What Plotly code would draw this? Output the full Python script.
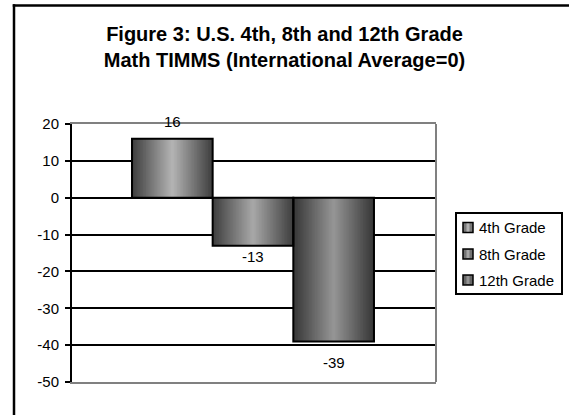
import plotly.graph_objects as go

# ---- data -------------------------------------------------------------
grades = ["4th Grade", "8th Grade", "12th Grade"]
scores = [16, -13, -39]
y_ticks = [20, 10, 0, -10, -20, -30, -40, -50]
title_lines = ["Figure 3: U.S. 4th, 8th and 12th Grade",
               "Math TIMMS (International Average=0)"]

# ---- styling ----------------------------------------------------------
edge_grey = [0x40, 0x40, 0x38]     # darkest shade at the bar edges
centre_grey = [0xb2, 0xa6, 0x94]   # lightest shade at the bar centre
label_shift = [17, -11, -21]       # vertical offset of each value label (px)

W, H = 569, 415
L, R, T, B = 72, 436, 124, 382     # plot area in pixels
FONT = "Arial, Liberation Sans, sans-serif"


def px_x(px):
    return (px - L) / (R - L)


def px_y(py):
    return (B - py) / (B - T)


def grey(v):
    v = int(round(v))
    return f"rgb({v},{v},{v})"


positions = list(range(len(grades)))

fig = go.Figure()

# cylinder-like shading: nested bars, each narrower and lighter than the last
layers = 26
for k in range(layers):
    t = k / (layers - 1)
    colors = [grey(e + (c - e) * t) for e, c in zip(edge_grey, centre_grey)]
    fig.add_trace(go.Bar(
        x=positions, y=scores, width=1 - k / layers,
        marker=dict(color=colors, line=dict(width=0)),
        showlegend=False, hoverinfo="skip",
    ))

# black outline drawn on top of the shading
fig.add_trace(go.Bar(
    x=positions, y=scores, width=1,
    marker=dict(color="rgba(0,0,0,0)", line=dict(color="black", width=2)),
    showlegend=False, hovertext=grades, hoverinfo="text+y",
))

# value labels
for p, v, dy in zip(positions, scores, label_shift):
    fig.add_annotation(x=p, y=v, text=str(v), showarrow=False,
                       yshift=dy, yanchor="middle",
                       font=dict(family=FONT, size=15, color="black"))

shapes = []
# outer chart frame (top and left edges; the rest runs off the page)
shapes.append(dict(type="line", xref="paper", yref="paper",
                   x0=px_x(12.75), x1=px_x(W), y0=px_y(5.5), y1=px_y(5.5),
                   line=dict(color="black", width=2.5)))
shapes.append(dict(type="line", xref="paper", yref="paper",
                   x0=px_x(14), x1=px_x(14), y0=px_y(4.25), y1=px_y(H),
                   line=dict(color="black", width=2.5)))
# right edge of the plot area
shapes.append(dict(type="line", xref="paper", yref="paper",
                   x0=1, x1=1, y0=0, y1=1,
                   line=dict(color="#808080", width=2)))

# legend box
shapes.append(dict(type="rect", xref="paper", yref="paper",
                   x0=px_x(456), x1=px_x(562), y0=px_y(213), y1=px_y(294),
                   line=dict(color="black", width=2), fillcolor="white"))
legend_rows = [227.5, 254, 280]
for g, yc, e, c in zip(grades, legend_rows, edge_grey, centre_grey):
    shapes.append(dict(type="rect", xref="paper", yref="paper",
                       x0=px_x(463), x1=px_x(473), y0=px_y(yc + 5), y1=px_y(yc - 5),
                       line=dict(color="black", width=1.5), fillcolor=grey((e + c) / 2)))
    shapes.append(dict(type="rect", xref="paper", yref="paper",
                       x0=px_x(466.5), x1=px_x(469.5), y0=px_y(yc + 4), y1=px_y(yc - 4),
                       line=dict(width=0), fillcolor=grey(c)))
    fig.add_annotation(xref="paper", yref="paper", x=px_x(476.5), y=px_y(yc),
                       xanchor="left", yanchor="middle", text=g, showarrow=False,
                       font=dict(family=FONT, size=15, color="black"))

fig.update_layout(
    width=W, height=H,
    margin=dict(l=L, r=W - R, t=T, b=H - B, pad=0),
    paper_bgcolor="white", plot_bgcolor="white",
    barmode="overlay", showlegend=False,
    shapes=shapes,
    title=dict(text="<br>".join(title_lines),
               x=0.5, xref="container", xanchor="center",
               y=1 - 41 / H, yref="container", yanchor="top",
               font=dict(family=FONT, size=20, color="black", weight="bold")),
    font=dict(family=FONT, size=15, color="black"),
)

fig.update_xaxes(range=[-1.244, 3.269], showticklabels=False, ticks="",
                 showgrid=False, zeroline=False,
                 showline=True, linecolor="#808080", linewidth=2, mirror=True)
fig.update_yaxes(range=[-50, 20], tickvals=y_ticks, ticktext=[str(v) for v in y_ticks],
                 ticks="outside", ticklen=5, tickwidth=2, tickcolor="black",
                 ticklabelstandoff=3,
                 showgrid=True, gridcolor="black", gridwidth=2, zeroline=False,
                 showline=True, linecolor="black", linewidth=2,
                 tickfont=dict(family=FONT, size=15, color="black"))

fig.write_html("out.html", config={"displayModeBar": False})
